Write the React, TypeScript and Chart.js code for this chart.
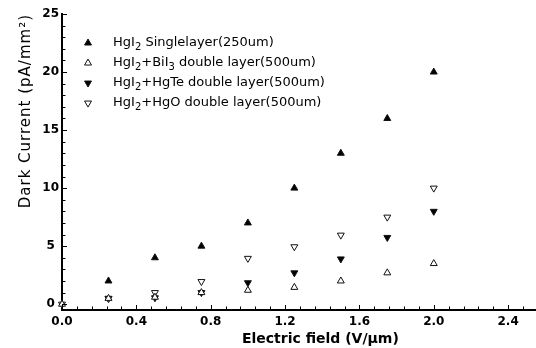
import { useEffect, useRef } from 'react';
import { Chart, registerables } from 'chart.js';

Chart.register(...registerables);

// ---- data ----
const fieldValues = [0, 0.25, 0.5, 0.75, 1.0, 1.25, 1.5, 1.75, 2.0];
const singleLayer = [null, 2, 4, 5, 7, 10, 13, 16, 20];
const bii3Layer = [0, 0.5, 0.6, 1.0, 1.2, 1.45, 2.0, 2.7, 3.5];
const hgteLayer = [null, 0.5, 0.55, 1.0, 1.85, 2.7, 3.9, 5.75, 8.0];
const hgoLayer = [0, 0.5, 1.0, 1.95, 3.95, 4.95, 5.95, 7.5, 10.0];

const seriesLabels = [
  'HgI₂ Singlelayer(250um)',
  'HgI₂+BiI₃ double layer(500um)',
  'HgI₂+HgTe double layer(500um)',
  'HgI₂+HgO double layer(500um)',
];

const xTickLabels = ['0.0', '0.4', '0.8', '1.2', '1.6', '2.0', '2.4'];
const yTickLabels = ['0', '5', '10', '15', '20', '25'];
const xTitle = 'Electric field (V/µm)';
const yTitle = 'Dark Current (pA/mm²)';

const X_MIN = 0;
const X_MAX = 2.55;
const X_MINOR = 0.08;
const Y_MIN = -0.5;
const Y_MAX = 25;
const Y_MINOR = 1;

const near = (a: number, b: number) => Math.abs(a - b) < 1e-6;

function toPoints(vals: (number | null)[]) {
  const pts: { x: number; y: number }[] = [];
  vals.forEach((v, i) => {
    if (v !== null) pts.push({ x: fieldValues[i], y: v });
  });
  return pts;
}

const styles = [
  { rotation: 0, fill: '#000000' },
  { rotation: 0, fill: '#ffffff' },
  { rotation: 180, fill: '#000000' },
  { rotation: 180, fill: '#ffffff' },
];

function drawSubText(ctx: CanvasRenderingContext2D, text: string, x: number, y: number, size: number) {
  const subMap: Record<string, string> = { '₂': '2', '₃': '3' };
  let cx = x;
  let buf = '';
  const flush = () => {
    if (!buf) return;
    ctx.font = `${size}px "DejaVu Sans"`;
    ctx.fillText(buf, cx, y);
    cx += ctx.measureText(buf).width;
    buf = '';
  };
  for (const ch of text) {
    if (subMap[ch]) {
      flush();
      ctx.font = `${Math.round(size * 0.8)}px "DejaVu Sans"`;
      ctx.fillText(subMap[ch], cx, y + size * 0.3);
      cx += ctx.measureText(subMap[ch]).width;
    } else buf += ch;
  }
  flush();
}

const decorPlugin = {
  id: 'decor',
  afterDatasetsDraw(chart: any) {
    const { ctx, chartArea, scales } = chart;
    const xs = scales.x;
    const ys = scales.y;
    ctx.save();
    ctx.strokeStyle = '#000';
    ctx.lineWidth = 1;
    // inward tick marks
    xs.ticks.forEach((t: any) => {
      const v = t.value;
      if (!near(v / X_MINOR, Math.round(v / X_MINOR))) return;
      const major = xTickLabels.some((l) => near(parseFloat(l), v));
      const px = Math.round(xs.getPixelForValue(v)) + 0.5;
      ctx.beginPath();
      ctx.moveTo(px, chartArea.bottom);
      ctx.lineTo(px, chartArea.bottom - (major ? 5 : 3.5));
      ctx.stroke();
    });
    ys.ticks.forEach((t: any) => {
      const v = t.value;
      if (!near(v / Y_MINOR, Math.round(v / Y_MINOR))) return;
      const major = yTickLabels.some((l) => near(parseFloat(l), v));
      const py = Math.round(ys.getPixelForValue(v)) + 0.5;
      ctx.beginPath();
      ctx.moveTo(chartArea.left, py);
      ctx.lineTo(chartArea.left + (major ? 5 : 3.5), py);
      ctx.stroke();
    });

    ctx.fillStyle = '#000';
    // x axis title
    ctx.font = 'bold 14px "DejaVu Sans"';
    ctx.textAlign = 'center';
    ctx.textBaseline = 'middle';
    ctx.fillText(xTitle, xs.getPixelForValue(1.39), 339);

    // y axis title
    ctx.save();
    ctx.translate(26, chartArea.top);
    ctx.rotate(-Math.PI / 2);
    ctx.font = '15px "DejaVu Sans"';
    (ctx as any).letterSpacing = '1px';
    ctx.textAlign = 'right';
    ctx.textBaseline = 'middle';
    ctx.fillText(yTitle, 0, 0);
    ctx.restore();

    // legend
    const lx = xs.getPixelForValue(0.14);
    chart.data.datasets.forEach((ds: any, i: number) => {
      const ly = ys.getPixelForValue(22.5 - i * 1.724);
      const s = styles[i];
      ctx.save();
      ctx.translate(lx, ly);
      ctx.rotate((s.rotation * Math.PI) / 180);
      const r = 4;
      ctx.beginPath();
      ctx.moveTo(0, -r);
      ctx.lineTo(r * Math.sin((2 * Math.PI) / 3), -r * Math.cos((2 * Math.PI) / 3));
      ctx.lineTo(r * Math.sin((4 * Math.PI) / 3), -r * Math.cos((4 * Math.PI) / 3));
      ctx.closePath();
      ctx.fillStyle = s.fill;
      ctx.fill();
      ctx.strokeStyle = '#111';
      ctx.lineWidth = 1;
      ctx.stroke();
      ctx.restore();
      ctx.fillStyle = '#000';
      ctx.textAlign = 'left';
      ctx.textBaseline = 'middle';
      drawSubText(ctx, ds.label, lx + 25, ly, 13);
    });
    ctx.restore();
  },
};

export default function App() {
  const ref = useRef<HTMLCanvasElement>(null);
  useEffect(() => {
    if (!ref.current) return;
    const series = [singleLayer, bii3Layer, hgteLayer, hgoLayer];
    const chart = new Chart(ref.current, {
      type: 'scatter',
      data: {
        datasets: series.map((vals, i) => ({
          label: seriesLabels[i],
          data: toPoints(vals),
          pointStyle: 'triangle',
          rotation: styles[i].rotation,
          pointRadius: 4,
          pointHoverRadius: 4,
          borderWidth: 1,
          borderColor: '#111',
          backgroundColor: styles[i].fill,
          showLine: false,
          clip: false as any,
          order: i < 2 ? (i === 0 ? 0 : 1) : i === 2 ? 3 : 2,
        })),
      },
      options: {
        animation: false,
        responsive: false,
        maintainAspectRatio: false,
        layout: { autoPadding: false, padding: { top: 14, right: 0, left: 0, bottom: 0 } },
        plugins: {
          legend: { display: false },
          tooltip: { enabled: false },
        },
        scales: {
          x: {
            type: 'linear',
            position: 'bottom',
            min: X_MIN,
            max: X_MAX,
            afterFit: (s: any) => {
              s.height = 38;
            },
            afterBuildTicks: (s: any) => {
              const t: { value: number }[] = [];
              for (let k = 0; k * X_MINOR <= X_MAX + 1e-9; k++) t.push({ value: +(k * X_MINOR).toFixed(4) });
              s.ticks = t;
            },
            grid: { display: true, drawOnChartArea: false, drawTicks: false },
            border: { display: true, width: 2, color: '#000' },
            ticks: {
              autoSkip: false,
              maxRotation: 0,
              padding: 5,
              color: '#000',
              font: { family: 'DejaVu Sans', size: 12, weight: 'bold' },
              callback: (v: any) => {
                const lab = xTickLabels.find((l) => near(parseFloat(l), Number(v)));
                return lab ?? '';
              },
            },
          },
          y: {
            type: 'linear',
            position: 'left',
            min: Y_MIN,
            max: Y_MAX,
            afterFit: (s: any) => {
              s.width = 62;
            },
            afterBuildTicks: (s: any) => {
              const t: { value: number }[] = [];
              for (let k = 0; k * Y_MINOR <= Y_MAX + 1e-9; k++) t.push({ value: k * Y_MINOR });
              s.ticks = t;
            },
            grid: { display: true, drawOnChartArea: false, drawTicks: false },
            border: { display: true, width: 2, color: '#000' },
            ticks: {
              autoSkip: false,
              padding: 3,
              crossAlign: 'center',
              color: '#000',
              font: { family: 'DejaVu Sans', size: 12, weight: 'bold' },
              callback: (v: any) => {
                const lab = yTickLabels.find((l) => near(parseFloat(l), Number(v)));
                return lab ?? '';
              },
            },
          },
        },
      },
      plugins: [decorPlugin],
    });
    return () => chart.destroy();
  }, []);
  return (
    <div style={{ position: 'absolute', left: 0, top: 0, width: 536, height: 348, background: '#fff' }}>
      <canvas ref={ref} width={536} height={348} style={{ width: 536, height: 348, display: 'block' }} />
    </div>
  );
}
